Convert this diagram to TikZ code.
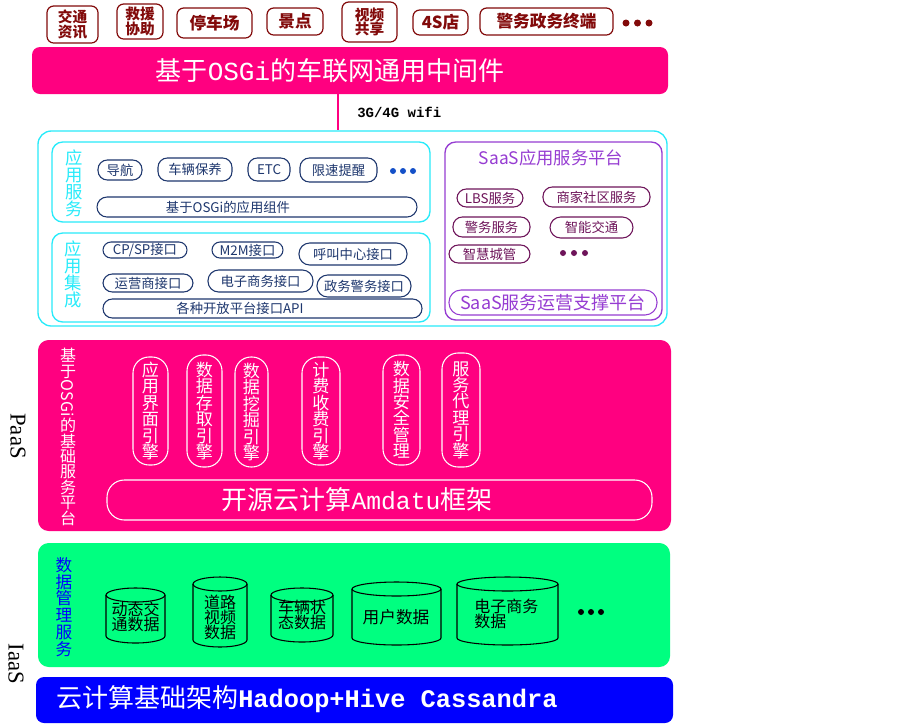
\documentclass[tikz,border=0pt]{standalone}
\usepackage{fontspec}
\usepackage{graphicx}
\setmainfont{Noto Sans CJK SC}
\newfontfamily\monofnt{Liberation Mono}
\newfontfamily\seriffnt{Liberation Serif}
\definecolor{dred}{RGB}{130,10,10}
\definecolor{hotpink}{RGB}{255,0,128}
\definecolor{cyanb}{RGB}{40,235,250}
\definecolor{navy}{RGB}{30,55,110}
\definecolor{dotblue}{RGB}{20,80,200}
\definecolor{purp}{RGB}{150,60,210}
\definecolor{dpurp}{RGB}{110,20,90}
\definecolor{grn}{RGB}{0,255,128}
\definecolor{blu}{RGB}{0,0,255}
\tikzset{
  fb/.style={inner sep=0pt, align=center},
  topbox/.style={fb, draw=dred, line width=0.9pt, rounded corners=5pt, fill=white, text=dred, font=\bfseries\fontsize{11}{11}\selectfont},
  topbig/.style={topbox, font=\bfseries\fontsize{12.5}{12.5}\selectfont},
  banner/.style={fb, fill=hotpink, rounded corners=6pt},
  bannertext/.style={fb, text=white, font=\fontsize{19.5}{20}\selectfont},
  cybox/.style={fb, draw=cyanb, line width=1pt, rounded corners=8pt},
  pubox/.style={fb, draw=purp, line width=1pt, rounded corners=8pt},
  vtext/.style={fb, font=\fontsize{13}{12.7}\selectfont},
  npill/.style={fb, draw=navy, line width=0.8pt, rounded corners=7pt, text=navy, font=\fontsize{10}{10}\selectfont},
  ppill/.style={fb, draw=dpurp, line width=0.8pt, rounded corners=7pt, text=dpurp, font=\fontsize{10}{10}\selectfont},
  pinkbox/.style={fb, fill=hotpink, rounded corners=8pt},
  engine/.style={fb, draw=white, line width=0.8pt, rounded corners=12pt, text=white, font=\fontsize{12.8}{12.3}\selectfont},
  bigtext/.style={fb, text=white, font=\fontsize{19.5}{20}\selectfont},
  layerlabel/.style={fb, rotate=-90, font=\seriffnt\fontsize{17}{17}\selectfont},
  greenbox/.style={fb, fill=grn, rounded corners=8pt},
  bluebox/.style={fb, fill=blu, rounded corners=6pt},
  cyl/.style={draw=black, line width=0.8pt},
  cyltext/.style={fb, text=black, font=\fontsize{12}{11.2}\selectfont},
  wire/.style={draw=hotpink, line width=1pt},
}
% box by corners: style, name, x1, y1, x2, y2, text
\newcommand\bx[7]{%
  \node[#1, minimum width={(#5-#3)*0.75pt}, minimum height={(#6-#4)*0.75pt}] (#2) at ({(#3+#5)/2},{(#4+#6)/2}) {#7};}
\newcommand\dbcyl[5]{%
  \draw[cyl] (#2,#3+7) -- (#2,#5-7) arc[start angle=180,end angle=0,x radius={(#4-#2)/2},y radius=7] -- (#4,#3+7);
  \draw[cyl] ({(#2+#4)/2},#3+7) ellipse[x radius={(#4-#2)/2}, y radius=7];
  \coordinate (#1) at ({(#2+#4)/2},{(#3+#5)/2});
}
\begin{document}
\begin{tikzpicture}[x=0.75pt,y=-0.75pt]
\useasboundingbox (0,0) rectangle (903,726);
\fill[white] (0,0) rectangle (903,726);

% top application boxes
\bx{topbox}{t1}{47}{6}{98}{43}{交通\\资讯}
\bx{topbox}{t2}{117}{4}{163}{39}{救援\\协助}
\bx{topbig}{t3}{177}{8}{252}{38}{停车场}
\bx{topbig}{t4}{267}{8}{323}{35}{景点}
\bx{topbox}{t5}{342}{2}{397}{42}{视频\\共享}
\bx{topbig}{t6}{413}{10}{468}{35}{4S店}
\bx{topbig}{t7}{480}{8}{613}{35}{警务政务终端}
\foreach \x in {626,637.5,649} \fill[dred] (\x,23) circle (3.5);

% banner
\bx{banner}{mid}{32}{47}{668}{94}{}
\node[bannertext] (midtxt) at (330,71) {基于{\monofnt OSGi}的车联网通用中间件};

% connection
\coordinate (lx) at (338,0);
\node[fb, font=\monofnt\bfseries\fontsize{10.5}{11}\selectfont, anchor=west] (wifi) at (357,112) {3G/4G wifi};

% cyan outer box
\bx{cybox, rounded corners=10pt}{outer}{38}{131}{667}{326}{}
\draw[wire] (lx |- mid.south) -- (lx |- outer.north);

% application services
\bx{cybox}{appsvc}{52}{142}{430}{222}{}
\node[vtext, text=cyanb] (appsvcl) at (74,183) {应\\用\\服\\务};
\bx{npill}{p1}{98}{160}{142}{180}{导航}
\bx{npill}{p2}{158}{158}{232}{181}{车辆保养}
\bx{npill}{p3}{248}{158}{290}{181}{ETC}
\bx{npill}{p4}{300}{158}{377}{182}{限速提醒}
\foreach \x in {393,403,413} \fill[dotblue] (\x,171) circle (3);
\bx{npill, rounded corners=7.5pt}{p5}{97}{197}{417}{217}{}
\node[fb, text=navy, font=\fontsize{10}{10}\selectfont] (p5t) at (228,207) {基于OSGi的应用组件};

% application integration
\bx{cybox}{appint}{52}{233}{430}{322}{}
\node[vtext, text=cyanb] (appintl) at (73,274) {应\\用\\集\\成};
\bx{npill, rounded corners=6pt}{q1}{103}{242}{187}{258}{CP/SP接口}
\bx{npill, rounded corners=6pt}{q2}{212}{242}{283}{258}{M2M接口}
\bx{npill, rounded corners=8pt}{q3}{299}{243}{407}{265}{呼叫中心接口}
\bx{npill}{q4}{103}{274}{193}{292}{运营商接口}
\bx{npill, rounded corners=8pt}{q5}{208}{270}{313}{292}{电子商务接口}
\bx{npill, rounded corners=8pt}{q6}{317}{275}{411}{297}{政务警务接口}
\bx{npill}{q7}{103}{299}{422}{318}{}
\node[fb, text=navy, font=\fontsize{10}{10}\selectfont] (q7t) at (240,308.5) {各种开放平台接口API};

% SaaS
\bx{pubox}{saas}{445}{142}{662}{320}{}
\node[fb, text=purp, font=\fontsize{13}{13}\selectfont] (saast) at (551,158) {SaaS应用服务平台};
\bx{ppill}{s1}{457}{189}{523}{207}{LBS服务}
\bx{ppill}{s2}{543}{187}{650}{207}{商家社区服务}
\bx{ppill}{s3}{453}{217}{530}{237}{警务服务}
\bx{ppill, rounded corners=8pt}{s4}{550}{217}{633}{238}{智能交通}
\bx{ppill}{s5}{449}{245}{530}{263}{智慧城管}
\foreach \x in {563,574,585} \fill[dpurp] (\x,253) circle (3);
\bx{ppill, draw=purp, text=purp, rounded corners=9pt, font=\fontsize{13.5}{13.5}\selectfont}{s6}{449}{290}{657}{315}{SaaS服务运营支撑平台}

% PaaS layer
\node[layerlabel] (paas) at (18,436) {PaaS};
\bx{pinkbox}{paasbox}{38}{340}{671}{531}{}
\node[fb, text=white, font=\fontsize{12}{11.6}\selectfont] (paasl) at (68,437) {基\\于\\\rotatebox[origin=c]{-90}{OSGi}\\的\\基\\础\\服\\务\\平\\台};
\bx{engine}{e1}{133}{357}{168}{465}{应\\用\\界\\面\\引\\擎}
\bx{engine}{e2}{187}{355}{222}{467}{数\\据\\存\\取\\引\\擎}
\bx{engine}{e3}{235}{357}{268}{467}{数\\据\\挖\\掘\\引\\擎}
\bx{engine}{e4}{302}{357}{340}{465}{计\\费\\收\\费\\引\\擎}
\bx{engine}{e5}{383}{355}{420}{465}{数\\据\\安\\全\\管\\理}
\bx{engine}{e6}{442}{353}{480}{467}{服\\务\\代\\理\\引\\擎}
\bx{engine, rounded corners=13pt}{amd}{107}{480}{652}{520}{}
\node[bigtext] (amdt) at (357,500) {开源云计算{\monofnt\fontsize{18.5}{20}\selectfont Amdatu}框架};

% IaaS layer
\node[layerlabel] (iaas) at (16,664) {IaaS};
\bx{greenbox}{data}{38}{543}{670}{667}{}
\node[vtext, text=blu, font=\fontsize{12.5}{12.6}\selectfont] (datal) at (64,607) {数\\据\\管\\理\\服\\务};
\dbcyl{c1}{106}{588}{165}{643}
\node[cyltext] (c1t) at (135.5,617) {动态交\\通数据};
\dbcyl{c2}{193}{577}{247}{647}
\node[cyltext] (c2t) at (220,617) {道路\\视频\\数据};
\dbcyl{c3}{271}{588}{333}{642}
\node[cyltext] (c3t) at (302,615) {车辆状\\态数据};
\dbcyl{c4}{352}{582}{441}{645}
\node[cyltext, font=\fontsize{12.5}{12.5}\selectfont] (c4t) at (396,617) {用户数据};
\dbcyl{c5}{457}{577}{558}{645}
\node[cyltext, anchor=west, align=left] (c5t) at (474,614) {电子商务\\数据};
\foreach \x in {581,591,601} \fill[black] (\x,612) circle (3);

% infrastructure
\bx{bluebox}{infra}{36}{677}{673}{723}{}
\node[bigtext, anchor=west] (infrat) at (56,699) {云计算基础架构{\monofnt\bfseries\fontsize{19}{20}\selectfont Hadoop+Hive Cassandra}};
\end{tikzpicture}
\end{document}
